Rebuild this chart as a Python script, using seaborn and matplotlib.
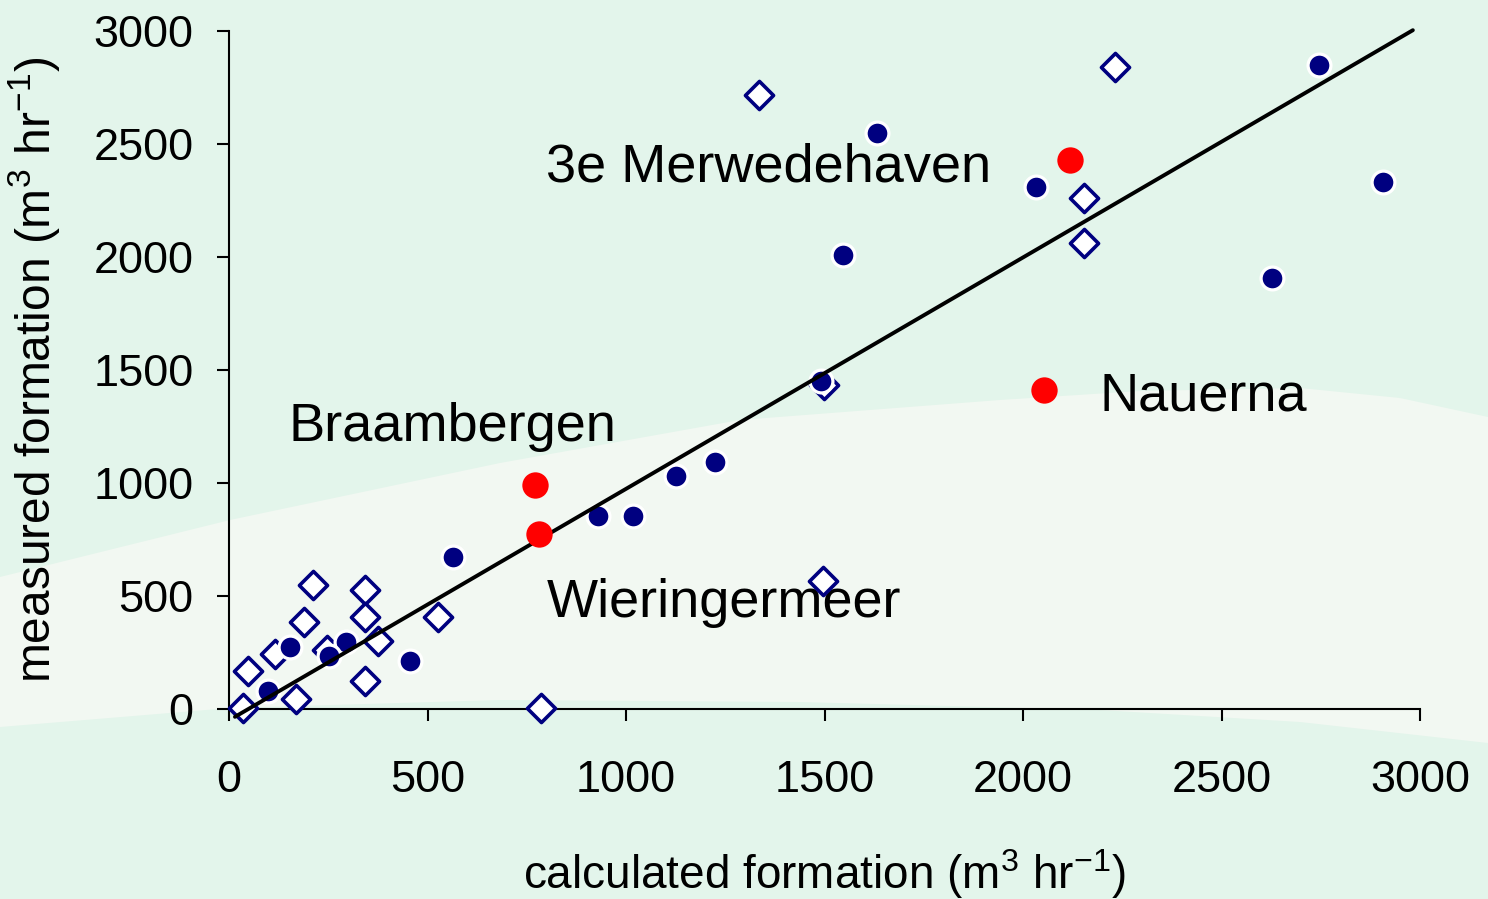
import numpy as np
import matplotlib
matplotlib.use("Agg")
import matplotlib.pyplot as plt
import seaborn as sns

# ---------------- data ----------------
# open diamonds
calc_open = [1335, 2232, 2154, 2154, 1499, 1496, 786, 526, 212, 343, 343, 375, 189, 343, 48, 35, 169, 116, 247]
meas_open = [2717, 2841, 2261, 2062, 1434, 566, 4, 407, 549, 527, 407, 301, 385, 124, 168, 4, 44, 243, 261]

# filled navy circles
calc_filled = [2746, 1632, 2033, 2907, 1547, 2627, 1491, 1224, 1126, 930, 1018, 564, 456, 295, 252, 154, 98]
meas_filled = [2850, 2549, 2310, 2332, 2009, 1907, 1451, 1093, 1031, 854, 854, 673, 212, 296, 235, 274, 80]

# highlighted sites (red)
calc_red = [2118, 2053, 771, 781]
meas_red = [2429, 1412, 991, 774]

# fitted line
fit_slope = 1.024
fit_intercept = -50.0
fit_x = [15, 2982]

ticks = [0, 500, 1000, 1500, 2000, 2500, 3000]
site_labels = ["3e Merwedehaven", "Nauerna", "Braambergen", "Wieringermeer"]

# ---------------- style ----------------
sns.set_style("ticks")
plt.rcParams["font.family"] = ["Liberation Sans", "DejaVu Sans"]
plt.rcParams["text.color"] = "black"
plt.rcParams["axes.labelcolor"] = "black"
plt.rcParams["mathtext.fontset"] = "custom"
plt.rcParams["mathtext.rm"] = "Liberation Sans"
plt.rcParams["mathtext.it"] = "Liberation Sans:italic"
plt.rcParams["mathtext.bf"] = "Liberation Sans:bold"

W, H = 1488, 899
fig = plt.figure(figsize=(W / 100, H / 100), dpi=100)
fig.patch.set_facecolor("#e3f5eb")

# decorative background band
bg = fig.add_axes([0, 0, 1, 1], zorder=0)
bg.set_xlim(0, W)
bg.set_ylim(H, 0)
bg.axis("off")
xs = np.linspace(0, W, 400)
top_px = np.interp(xs, [0, 230, 500, 740, 1000, 1140, 1300, 1400, 1488],
                   [577, 520, 463, 420, 400, 391, 388, 398, 417])
bot_px = np.interp(xs, [0, 230, 500, 800, 1100, 1300, 1488],
                   [727, 708, 700, 702, 710, 722, 743])
bg.fill_between(xs, top_px, bot_px, color="#f2f8f2", lw=0)

ax = fig.add_axes([229 / W, 1 - 709 / H, 1191 / W, 678 / H], zorder=1)
ax.set_facecolor("none")

navy = "#000080"

sns.scatterplot(x=calc_open, y=meas_open, marker="D", s=205, color="white",
                edgecolor=navy, linewidth=2.6, zorder=4, clip_on=False, ax=ax)
sns.scatterplot(x=calc_filled, y=meas_filled, marker="o", s=270, color=navy,
                edgecolor="white", linewidth=2.3, zorder=5, clip_on=False, ax=ax)

fit_x_arr = np.array(fit_x, dtype=float)
fit_y = fit_slope * fit_x_arr + fit_intercept
sns.lineplot(x=fit_x_arr, y=fit_y, color="black", linewidth=2.8, zorder=6,
             ax=ax, clip_on=False)

sns.scatterplot(x=calc_red, y=meas_red, marker="o", s=360, color="#ff0000",
                linewidth=0, zorder=7, clip_on=False, ax=ax)

ax.set_xlim(0, 3000)
ax.set_ylim(0, 3000)
ax.set_xticks(ticks)
ax.set_yticks(ticks)
ax.set_xticklabels([str(t) for t in ticks])
ax.set_yticklabels([str(t) for t in ticks])
sns.despine(ax=ax)
for s in ["left", "bottom"]:
    ax.spines[s].set_linewidth(1.5)
    ax.spines[s].set_color("black")
ax.tick_params(axis="both", direction="out", length=8.6, width=1.5,
               labelsize=32.5, colors="black")
ax.tick_params(axis="x", pad=28)
ax.tick_params(axis="y", pad=17)

ax.set_xlabel(r"calculated formation (m$^{3}$ hr$^{-1}$)", fontsize=33,
              va="baseline", color="black")
ax.xaxis.set_label_coords(0.5, (709 - 889) / 678)
ax.set_ylabel(r"measured formation (m$^{3}$ hr$^{-1}$)", fontsize=34.5,
              color="black")
ax.yaxis.set_label_coords((62 - 229) / 1191, 0.5)

fs = 39
kw = dict(fontsize=fs, ha="left", va="baseline", zorder=3, color="black")
ax.text(798, 2332, site_labels[0], **kw)
ax.text(2192, 1319, site_labels[1], **kw)
ax.text(151, 1186, site_labels[2], **kw)
ax.text(801, 407, site_labels[3], **kw)

fig.savefig("out.png", dpi=100)
